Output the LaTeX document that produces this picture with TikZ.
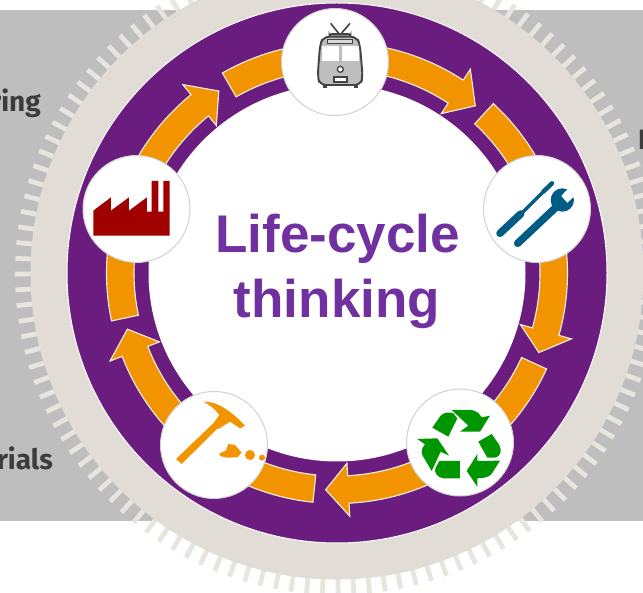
\documentclass[tikz,border=0pt]{standalone}
\usepackage{fontspec}
\setmainfont{Liberation Sans}
\newfontfamily\labelfont{Fira Sans}
\definecolor{greyband}{HTML}{BEBEBE}
\definecolor{beigering}{HTML}{E1DCD5}
\definecolor{beigetick}{HTML}{E8E4DE}
\definecolor{ringpurple}{HTML}{6A1D7E}
\definecolor{titlepurple}{HTML}{7030A0}
\definecolor{arroworange}{HTML}{F29400}
\definecolor{arrowedge}{HTML}{F8F0E2}
\definecolor{factoryred}{HTML}{A00000}
\definecolor{toolblue}{HTML}{005C85}
\definecolor{recyclegreen}{HTML}{009600}
\definecolor{tramdark}{HTML}{444444}
\definecolor{labeldark}{HTML}{3C3C3C}
\tikzset{
  stagecircle/.style={circle,draw=black!18,line width=1pt,fill=white,minimum size=107pt,inner sep=0pt},
  ringarrow/.style={fill=arroworange,draw=arrowedge,line width=1.1pt,line join=miter},
  sidelabel/.style={inner sep=0pt,text=labeldark,font=\labelfont\bfseries\fontsize{28}{28}\selectfont},
  titletext/.style={inner sep=0pt,anchor=base,text=titlepurple,font=\bfseries\fontsize{53}{53}\selectfont}
}
\newcommand{\cyclearrow}[3]{% tail angle, head base angle, tip angle
  \path[ringarrow] (#1:230.5) arc[start angle=#1,end angle=#2,radius=230.5pt]
    -- (#2:243.5) -- (#3:217) -- (#2:190.5) -- (#2:203)
    arc[start angle=#2,end angle=#1,radius=203pt] -- cycle;}
\begin{document}
\begin{tikzpicture}[x=1pt,y=-1pt]
\useasboundingbox (0,0) rectangle (643,593);
\clip (0,0) rectangle (643,593);
\fill[white] (0,0) rectangle (643,593);
\fill[greyband] (0,10) rectangle (643,521.5);
\node[sidelabel,anchor=base east] (labelring) at (41,112) {ring};
\node[sidelabel,anchor=base east] (labelrials) at (53,470) {rials};
\node[sidelabel,anchor=base west] (labelright) at (638,150) {I};
\begin{scope}[shift={(337,273)},y=1pt]
  \foreach \i in {0,...,127} {
    \draw[beigetick,line width=4.8pt] ({180.2+\i*2.8125}:300) -- ({180.2+\i*2.8125}:322);
  }
  \fill[beigering] (0,0) circle[radius=306.5pt];
  \fill[ringpurple,draw=white,line width=1pt] (0,0) circle[radius=270pt];
  \fill[white] (0,0) circle[radius=188.5pt];
  \cyclearrow{119.8}{56.8}{50.4}
  \cyclearrow{47.3}{-15.7}{-21.5}
  \cyclearrow{-24.6}{-87}{-93}
  \cyclearrow{-96}{-158.8}{-165}
  \cyclearrow{-168}{-230.7}{-237}
\end{scope}
\node[stagecircle] (tram) at (335,62) {};
\node[stagecircle] (tools) at (537,209) {};
\node[stagecircle] (recycle) at (460,442.5) {};
\node[stagecircle] (mining) at (214,445) {};
\node[stagecircle] (factory) at (136.5,209) {};
% tram
\begin{scope}[shift={(270,10)},x=0.3333pt,y=-0.3333pt]
  \draw[tramdark,line width=1.6pt] (182,40) -- (210,75) -- (240,40);
  \draw[tramdark,line width=1.6pt,fill=greyband,rounded corners=2pt] (178,72) rectangle (242,80);
  \draw[tramdark,line width=1.9pt,fill=greyband,rounded corners=6pt]
    (160,80) -- (260,80) -- (270,105) -- (278,200) -- (272,225) -- (150,225) -- (143,200) -- (150,105) -- cycle;
  \draw[tramdark,line width=1pt,fill=white!85!black] (172,88) rectangle (248,100);
  \fill[white] (155,107) rectangle (208,152);
  \fill[white] (215,107) rectangle (268,152);
  \draw[tramdark,line width=1.3pt,fill=white] (211,178) circle[radius=9];
  \draw[tramdark,line width=1.8pt,fill=white] (193,200) rectangle (230,217);
  \fill[tramdark] (160,222) rectangle (172,234);
  \fill[tramdark] (251,222) rectangle (263,234);
\end{scope}
% tools
\begin{scope}[shift={(480,150)},x=0.3333pt,y=-0.3333pt]
  \draw[toolblue,line width=7.5pt,line cap=round] (60,250) -- (122,192);
  \draw[toolblue,line width=3.2pt] (120,195) -- (190,125);
  \draw[toolblue,line width=4.4pt,line cap=round] (190,125) -- (216,100);
  \draw[toolblue,line width=7.5pt,line cap=round] (113,280) -- (232,168);
  \fill[toolblue] (247,150) circle[radius=35];
  \fill[white] (262,118) -- (282,140) -- (262,158) -- (244,138) -- cycle;
  \fill[white] (262,118) -- (282,100) -- (300,122) -- (282,140) -- cycle;
\end{scope}
% recycling symbol
\begin{scope}[shift={(400,385)},x=0.3333pt,y=-0.3333pt]
  \fill[recyclegreen] (155,75) -- (215,75) .. controls (230,78) and (240,88) .. (245,97) -- (270,92) -- (240,140) -- (180,140) -- (205,122) -- cycle;
  \fill[recyclegreen] (97,128) -- (122,92) .. controls (132,82) and (150,80) .. (160,85) -- (172,100) -- (145,155) -- cycle;
  \fill[recyclegreen] (52,162) -- (112,160) -- (147,212) -- (122,200) -- (95,258) -- (68,212) .. controls (62,200) and (65,190) .. (75,178) -- cycle;
  \fill[recyclegreen] (118,228) -- (180,228) -- (180,280) -- (130,280) .. controls (112,278) and (102,262) .. (106,250) -- cycle;
  \fill[recyclegreen] (300,227) -- (276,265) .. controls (270,276) and (250,280) .. (232,280) -- (232,305) -- (200,258) -- (232,207) -- (232,228) -- cycle;
  \fill[recyclegreen] (235,170) -- (275,147) -- (298,180) .. controls (308,198) and (300,216) .. (285,218) -- (262,218) -- cycle;
\end{scope}
% hammer and stones
\begin{scope}[shift={(150,385)},x=0.3333pt,y=-0.3333pt]
  \fill[arroworange] (78,222) -- (190,115) -- (205,128) -- (95,237) -- cycle;
  \fill[arroworange] (160,50) .. controls (205,48) and (250,85) .. (285,122) -- (270,130) -- (240,110) -- (205,132) -- (190,115) -- (208,90) .. controls (195,72) and (180,60) .. (160,50) -- cycle;
  \fill[arroworange] (208,205) -- (228,197) -- (235,177) -- (255,180) -- (275,203) -- (262,217) -- (230,218) -- (210,213) -- cycle;
  \fill[arroworange] (300,210) circle[radius=15];
  \fill[arroworange] (336,218) circle[radius=9];
\end{scope}
% factory
\begin{scope}[x=0.3333pt,y=-0.3333pt]
  \fill[factoryred] (280,707) -- (280,632) -- (333,592) -- (333,632) -- (387,592) -- (387,632) -- (441,592) -- (441,635) -- (455,635) -- (455,543) -- (475,543) -- (475,635) -- (490,635) -- (490,543) -- (509,543) -- (509,707) -- cycle;
\end{scope}
\node[titletext] (titleone) at (337.5,253) {Life-cycle};
\node[titletext] (titletwo) at (337,318) {thinking};
\end{tikzpicture}
\end{document}
